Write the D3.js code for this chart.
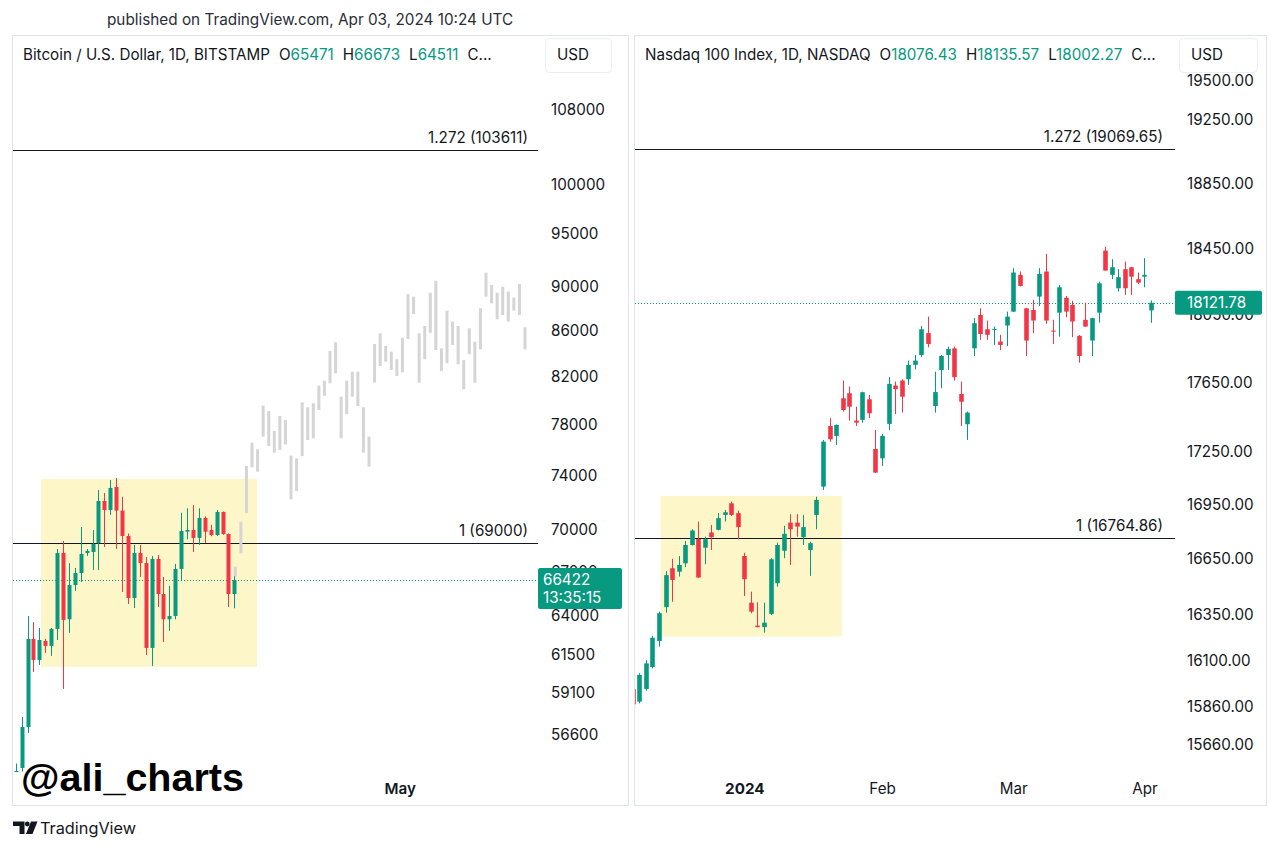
<!DOCTYPE html>
<html><head><meta charset="utf-8">
<script src="https://cdnjs.cloudflare.com/ajax/libs/d3/7.8.5/d3.min.js"></script>
<style>
body{margin:0;background:#fff;}
svg{display:block;font-family:Inter,"Noto Sans",Roboto,sans-serif;}
</style></head>
<body><svg id="c" width="1280" height="850"></svg>
<script>
// ---------------- DATA ----------------
// Bitcoin / U.S. Dollar, 1D (BITSTAMP)
const btcDates = ["2024-02-26","2024-02-27","2024-02-28","2024-02-29","2024-03-01","2024-03-02","2024-03-03","2024-03-04","2024-03-05","2024-03-06","2024-03-07","2024-03-08","2024-03-09","2024-03-10","2024-03-11","2024-03-12","2024-03-13","2024-03-14","2024-03-15","2024-03-16","2024-03-17","2024-03-18","2024-03-19","2024-03-20","2024-03-21","2024-03-22","2024-03-23","2024-03-24","2024-03-25","2024-03-26","2024-03-27","2024-03-28","2024-03-29","2024-03-30","2024-03-31","2024-04-01","2024-04-02","2024-04-03"];
const btcOpen  = [52000,54690,57060,62500,61150,62370,62050,63150,68310,63780,66080,66910,68310,68380,69020,72080,71410,73130,71370,69520,65200,68310,67600,61920,67890,65470,63780,64000,67190,69830,69950,69380,70830,69950,69590,71270,69660,65471];
const btcHigh  = [54940,57650,64000,63600,63210,62500,63210,68590,69160,67600,67260,70170,68590,69950,72900,72680,73660,73820,72400,69700,68880,68880,68030,68100,68170,66630,66020,67540,71210,71540,71780,71540,70940,70320,71410,71300,69700,66673];
const btcLow   = [51000,54500,56700,60400,60840,61600,61410,62430,59350,62890,65680,66290,68100,67120,67120,68730,71050,68590,65610,64800,64530,66630,61470,60780,64600,62300,63020,63780,66430,69280,68380,68880,69020,69500,69520,69600,64600,64511];
const btcClose = [54520,57060,62500,61150,62430,62050,63150,68310,63740,66080,66910,68240,68450,68950,72080,71410,73060,71370,69520,65200,68310,67600,61920,67890,65470,63780,64000,67190,69880,69950,69380,70830,69830,69590,71270,69660,65470,66422];
// projected (grey) bars pattern: top and bottom of each bar
const btcGhostHigh = [67350,70550,74740,76560,76040,79550,79110,77490,78700,78380,75540,75330,79830,79420,79740,81210,81630,84180,84940,80290,81630,82390,82390,79420,77040,84790,85730,84610,84120,83460,85340,89260,89040,85730,86380,89410,90520,84410,87760,86770,86380,83390,86180,84990,87980,91280,90120,89410,89960,89500,88950,90220,86260];
const btcGhostLow  = [66650,68290,71190,74640,74300,77040,76300,75770,75980,76430,72210,72830,75510,76770,76910,79190,80370,81410,82260,76910,78870,80290,79520,75780,74680,81470,82880,83250,82540,82030,82340,85230,87460,81470,83460,85780,84260,82450,83110,84700,83030,80910,83890,81460,84320,89040,88430,86980,87370,86770,87760,87370,84320];
const btcTicks = [108000,100000,95000,90000,86000,82000,78000,74000,70000,67000,64000,61500,59100,56600];
const btcLevelValues = [103611, 69000];
const btcLevelLabels = ["1.272 (103611)", "1 (69000)"];
const btcBoxTime  = ["2024-03-01T07:00Z", "2024-04-06T20:00Z"];
const btcBoxPrice = [73740, 60710];
const btcTimeTicks = ["2024-05-01"];
const btcTimeLabels = ["May"];
const btcCountdown = "13:35:15";

// Nasdaq 100 Index, 1D (NASDAQ)
const ndxDates = ["2023-12-06","2023-12-07","2023-12-08","2023-12-11","2023-12-12","2023-12-13","2023-12-14","2023-12-15","2023-12-18","2023-12-19","2023-12-20","2023-12-21","2023-12-22","2023-12-26","2023-12-27","2023-12-28","2023-12-29",
"2024-01-02","2024-01-03","2024-01-04","2024-01-05","2024-01-08","2024-01-09","2024-01-10","2024-01-11","2024-01-12","2024-01-16","2024-01-17","2024-01-18","2024-01-19","2024-01-22","2024-01-23","2024-01-24","2024-01-25","2024-01-26","2024-01-29","2024-01-30","2024-01-31",
"2024-02-01","2024-02-02","2024-02-05","2024-02-06","2024-02-07","2024-02-08","2024-02-09","2024-02-12","2024-02-13","2024-02-14","2024-02-15","2024-02-16","2024-02-20","2024-02-21","2024-02-22","2024-02-23","2024-02-26","2024-02-27","2024-02-28","2024-02-29",
"2024-03-01","2024-03-04","2024-03-05","2024-03-06","2024-03-07","2024-03-08","2024-03-11","2024-03-12","2024-03-13","2024-03-14","2024-03-15","2024-03-18","2024-03-19","2024-03-20","2024-03-21","2024-03-22","2024-03-25","2024-03-26","2024-03-27","2024-03-28",
"2024-04-01","2024-04-02"];
const ndxOpen  = [15950,15884,15951,16067,16206,16388,16600,16581,16627,16728,16761,16713,16797,16812,16895,16960,16905,16667,16412,16288,16280,16351,16518,16696,16852,16852,16771,16700,16895,17054,17399,17342,17559,17588,17430,17434,17553,17267,17214,17411,17633,17662,17670,17754,17812,17941,17514,17724,17812,17851,17584,17409,17851,18049,17964,17960,17891,17986,18069,18290,18089,18079,18159,18310,17956,18063,18152,18109,17925,18020,17897,18063,18437,18290,18209,18324,18336,18264,18279,18076.43];
const ndxHigh  = [16000,16034,16104,16233,16364,16584,16652,16667,16750,16815,16858,16774,16839,16905,16923,16969,16919,16685,16472,16414,16412,16655,16741,16834,16899,16899,16895,16746,16997,17319,17444,17408,17662,17627,17510,17597,17578,17376,17353,17682,17656,17670,17779,17812,17984,18039,17714,17812,17861,17861,17656,17482,18030,18089,18016,17980,17931,18069,18330,18310,18092,18139,18330,18417,18020,18229,18163,18134,17930,18123,18032,18249,18461,18385,18324,18370,18338,18304,18391,18135.57];
const ndxLow   = [15790,15875,15942,16060,16175,16358,16417,16554,16606,16725,16547,16622,16700,16809,16858,16889,16760,16448,16355,16279,16250,16345,16499,16655,16618,16774,16728,16558,16815,17035,17309,17290,17482,17430,17399,17418,17444,17130,17171,17376,17467,17476,17637,17728,17799,17857,17476,17617,17724,17662,17399,17319,17806,17901,17901,17871,17841,17865,18067,18220,17806,17941,18103,17996,17877,17920,18036,17917,17767,17978,17806,18004,18314,18264,18189,18169,18169,18235,18215,18002.27];
const ndxClose = [15870,16025,16086,16223,16355,16562,16536,16618,16728,16808,16549,16760,16771,16877,16910,16895,16827,16540,16364,16280,16304,16649,16728,16790,16815,16830,16827,16738,16979,17309,17323,17405,17491,17510,17418,17594,17472,17133,17342,17643,17612,17568,17754,17779,17964,17877,17595,17806,17847,17682,17539,17476,18000,17936,17931,17966,17871,18039,18304,18223,17897,18016,18296,18016,17950,18215,18069,18010,17806,17980,18030,18239,18316,18336,18276,18209,18279,18243,18290,18121.78];
const ndxTicks = [19500,19250,18850,18450,18050,17650,17250,16950,16650,16350,16100,15860,15660];
const ndxLevelValues = [19069.65, 16764.86];
const ndxLevelLabels = ["1.272 (19069.65)", "1 (16764.86)"];
const ndxBoxBars  = [4.26, 31.85];      // in bar units from first bar
const ndxBoxPrice = [17001, 16229];
const ndxTimeTicks  = ["2024-01-02","2024-02-01","2024-03-01","2024-04-01"];
const ndxTimeLabels = ["2024","Feb","Mar","Apr"];

// ---------------- STYLE ----------------
const TXT = "#131722", UP = "#089981", DN = "#f23645", BOX = "#fcf6c9", GHOST = "#d5d5d5", BORDER = "#e0e3eb";
const svg = d3.select("#c");
const FS = 15.2;
const FONT = "Inter,'Noto Sans',sans-serif";

// panels
const L = {x0:13, x1:538, y0:36, y1:772};
const R = {x0:635, x1:1175, y0:36, y1:772};

svg.append("rect").attr("x",12.5).attr("y",35.5).attr("width",616).attr("height",770).attr("fill","#fff").attr("stroke",BORDER);
svg.append("rect").attr("x",634.5).attr("y",35.5).attr("width",632).attr("height",770).attr("fill","#fff").attr("stroke",BORDER);

const defs = svg.append("defs");
defs.append("clipPath").attr("id","clipL").append("rect").attr("x",L.x0).attr("y",L.y0).attr("width",L.x1-L.x0).attr("height",L.y1-L.y0);
defs.append("clipPath").attr("id","clipR").append("rect").attr("x",R.x0).attr("y",R.y0).attr("width",R.x1-R.x0).attr("height",R.y1-R.y0);

// scales
const parse = d3.utcParse("%Y-%m-%d");
const xL = d3.scaleUtc().domain([new Date("2024-02-25T13:02Z"), new Date("2024-05-24T09:22Z")]).range([L.x0, L.x1]);
const yL = d3.scaleLog().domain([54463, 116590]).range([L.y1, L.y0]);
const xG = d3.scaleLinear().domain([0, btcGhostHigh.length-1]).range([235.3, 525]);
const xR = d3.scaleLinear().domain([0.34, 82.66]).range([R.x0, R.x1]);
const yR = d3.scaleLog().domain([15519, 19792]).range([R.y1, R.y0]);

function drawCandles(g, xs, O, H, Lo, Cl, y, w){
  const n = O.length;
  for(let i=0;i<n;i++){
    const up = Cl[i] >= O[i];
    const col = up ? UP : DN;
    const cx = Math.round(xs[i]) + 0.5;
    g.append("line").attr("x1",cx).attr("x2",cx).attr("y1",y(H[i])).attr("y2",y(Lo[i])).attr("stroke",col).attr("stroke-width",1);
    const top = y(Math.max(O[i],Cl[i])), bot = y(Math.min(O[i],Cl[i]));
    g.append("rect").attr("x",cx - w/2).attr("y",top).attr("width",w).attr("height",Math.max(1,bot-top)).attr("fill",col);
  }
}

// ---------- LEFT PANEL ----------
const gL = svg.append("g").attr("clip-path","url(#clipL)");
gL.append("rect")
  .attr("x", xL(new Date(btcBoxTime[0]))).attr("width", xL(new Date(btcBoxTime[1])) - xL(new Date(btcBoxTime[0])))
  .attr("y", yL(btcBoxPrice[0])).attr("height", yL(btcBoxPrice[1]) - yL(btcBoxPrice[0]))
  .attr("fill", BOX);
btcLevelValues.forEach(v=>{
  gL.append("line").attr("x1",L.x0).attr("x2",L.x1).attr("y1",Math.round(yL(v))+0.5).attr("y2",Math.round(yL(v))+0.5).attr("stroke",TXT).attr("stroke-width",1);
});
const btcLast = btcClose[btcClose.length-1];
gL.append("line").attr("x1",L.x0).attr("x2",L.x1).attr("y1",Math.round(yL(btcLast))+0.5).attr("y2",Math.round(yL(btcLast))+0.5)
  .attr("stroke",UP).attr("stroke-dasharray","1,2");
// ghost bars
btcGhostHigh.forEach((h,i)=>{
  gL.append("rect").attr("x",xG(i)-1.5).attr("width",3).attr("y",yL(h)).attr("height",yL(btcGhostLow[i])-yL(h)).attr("fill",GHOST);
});
drawCandles(gL, btcDates.map(d=>xL(parse(d))), btcOpen, btcHigh, btcLow, btcClose, yL, 4);
btcLevelLabels.forEach((t,i)=>{
  svg.append("text").attr("x",528).attr("y",yL(btcLevelValues[i])-7).attr("text-anchor","end")
    .attr("font-size",FS).attr("fill",TXT).text(t);
});

// left price axis
const axL = svg.append("g").attr("transform","translate(551,0)")
  .call(d3.axisRight(yL).tickValues(btcTicks).tickSize(0).tickPadding(0).tickFormat(d3.format("d")));
axL.select(".domain").remove();
axL.selectAll("text").attr("font-size",FS).attr("fill",TXT).attr("font-family",FONT);

// left time axis
const axLB = svg.append("g").attr("transform","translate(0,779)")
  .call(d3.axisBottom(xL).tickValues(btcTimeTicks.map(parse)).tickSize(0).tickPadding(4).tickFormat((d,i)=>btcTimeLabels[i]));
axLB.select(".domain").remove();
axLB.selectAll("text").attr("font-size",FS).attr("fill",TXT).attr("font-weight",600).attr("font-family",FONT);

// left last price tag
{
  const yy = yL(btcLast);
  svg.append("rect").attr("x",538).attr("y",yy-12).attr("width",84).attr("height",41).attr("rx",2).attr("fill",UP);
  svg.append("text").attr("x",543).attr("y",yy+5).attr("font-size",FS).attr("fill","#fff").text(d3.format("d")(btcLast));
  svg.append("text").attr("x",543).attr("y",yy+23).attr("font-size",FS).attr("fill","#fff").text(btcCountdown);
}

// ---------- RIGHT PANEL ----------
const gR = svg.append("g").attr("clip-path","url(#clipR)");
gR.append("rect")
  .attr("x", xR(ndxBoxBars[0])).attr("width", xR(ndxBoxBars[1]) - xR(ndxBoxBars[0]))
  .attr("y", yR(ndxBoxPrice[0])).attr("height", yR(ndxBoxPrice[1]) - yR(ndxBoxPrice[0]))
  .attr("fill", BOX);
ndxLevelValues.forEach(v=>{
  gR.append("line").attr("x1",R.x0).attr("x2",R.x1).attr("y1",Math.round(yR(v))+0.5).attr("y2",Math.round(yR(v))+0.5).attr("stroke",TXT).attr("stroke-width",1);
});
const ndxLast = ndxClose[ndxClose.length-1];
gR.append("line").attr("x1",R.x0).attr("x2",R.x1).attr("y1",Math.round(yR(ndxLast))+0.5).attr("y2",Math.round(yR(ndxLast))+0.5)
  .attr("stroke",UP).attr("stroke-dasharray","1,2");
drawCandles(gR, ndxDates.map((d,i)=>xR(i)), ndxOpen, ndxHigh, ndxLow, ndxClose, yR, 4.6);
ndxLevelLabels.forEach((t,i)=>{
  svg.append("text").attr("x",1163).attr("y",yR(ndxLevelValues[i])-7).attr("text-anchor","end")
    .attr("font-size",FS).attr("fill",TXT).text(t);
});
const axR = svg.append("g").attr("transform","translate(1187,0)")
  .call(d3.axisRight(yR).tickValues(ndxTicks).tickSize(0).tickPadding(0).tickFormat(d3.format(".2f")));
axR.select(".domain").remove();
axR.selectAll("text").attr("font-size",FS).attr("fill",TXT).attr("font-family",FONT);

const axRB = svg.append("g").attr("transform","translate(0,779)")
  .call(d3.axisBottom(xR).tickValues(ndxTimeTicks.map(d=>ndxDates.indexOf(d))).tickSize(0).tickPadding(4).tickFormat((d,i)=>ndxTimeLabels[i]));
axRB.select(".domain").remove();
axRB.selectAll("text").attr("font-size",FS).attr("fill",TXT).attr("font-family",FONT)
  .attr("font-weight",(d,i)=> i===0 ? 700 : 400);

{
  const yy = yR(ndxLast);
  svg.append("rect").attr("x",1175).attr("y",yy-12).attr("width",87).attr("height",24).attr("rx",2).attr("fill",UP);
  svg.append("text").attr("x",1187).attr("y",yy+5.5).attr("font-size",FS).attr("fill","#fff").text(d3.format(".2f")(ndxLast));
}

// ---------- HEADERS ----------
function header(x, title, O, H, Lo, fmt){
  const t = svg.append("text").attr("x",x).attr("y",60).attr("font-size",FS).attr("fill",TXT);
  t.append("tspan").text(title);
  [["O",O],["H",H],["L",Lo]].forEach(([k,v])=>{
    t.append("tspan").attr("dx",9).attr("fill",TXT).text(k);
    t.append("tspan").attr("fill",UP).text(fmt(v));
  });
  t.append("tspan").attr("dx",9).attr("fill",TXT).text("C...");
}
const nB = btcOpen.length-1, nN = ndxOpen.length-1;
header(23, "Bitcoin / U.S. Dollar, 1D, BITSTAMP", btcOpen[nB], btcHigh[nB], btcLow[nB], d3.format("d"));
header(645, "Nasdaq 100 Index, 1D, NASDAQ", ndxOpen[nN], ndxHigh[nN], ndxLow[nN], d3.format(".2f"));

[[545,66],[1179,78]].forEach(([x,w])=>{
  svg.append("rect").attr("x",x+0.5).attr("y",38.5).attr("width",w).attr("height",34).attr("rx",4).attr("fill","#fff").attr("stroke","#eceef2");
  svg.append("text").attr("x",x+12).attr("y",60).attr("font-size",FS).attr("fill",TXT).text("USD");
});

svg.append("text").attr("x",107).attr("y",25).attr("font-size",15.3).attr("fill","#2a2e39")
  .text("published on TradingView.com, Apr 03, 2024 10:24 UTC");

// watermark
svg.append("text").attr("x",21).attr("y",791).attr("font-family","'Liberation Sans',Arial,sans-serif")
  .attr("font-weight",700).attr("font-size",39.5).attr("fill","#000").text("@ali_charts");

// TradingView logo
const lg = svg.append("g").attr("fill",TXT);
lg.append("path").attr("d","M13 821.5 H24.5 V834 H19.5 V826 H13 Z");
lg.append("circle").attr("cx",27.3).attr("cy",824).attr("r",2.4);
lg.append("path").attr("d","M31 821.5 H37.5 L32.5 834 H26 Z");
svg.append("text").attr("x",40).attr("y",834).attr("font-size",16.3).attr("fill",TXT).text("TradingView");
</script>
</body></html>
